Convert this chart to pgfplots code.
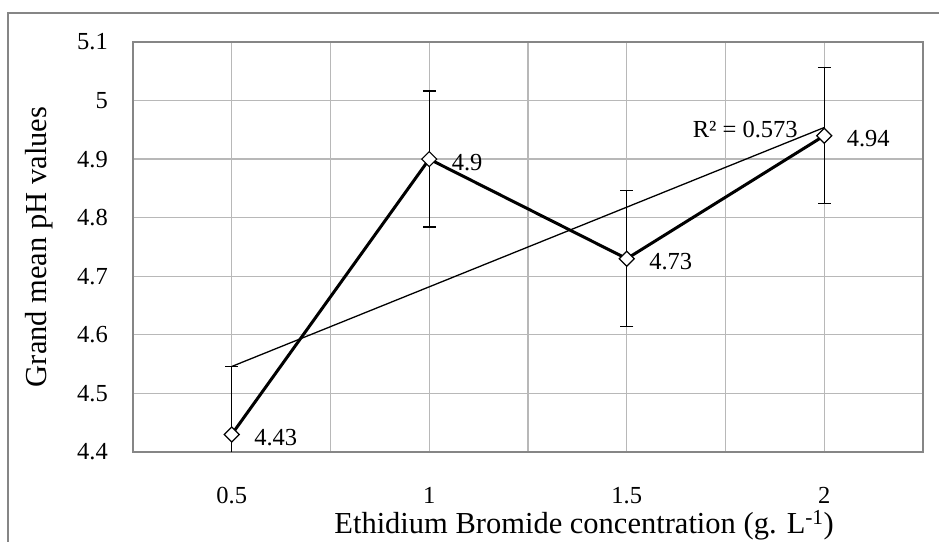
\documentclass[border=0pt]{standalone}
\usepackage{pgfplots}
\pgfplotsset{compat=1.18}
\usepackage{fontspec}
\setmainfont{Liberation Serif}
\definecolor{gridgray}{RGB}{184,184,184}
\definecolor{framegray}{RGB}{134,134,134}
\begin{document}
\begin{tikzpicture}[x=1bp,y=1bp]
\begin{axis}[
    at={(133bp,90bp)}, anchor=south west,
    scale only axis, width=790bp, height=410bp,
    xmin=0.25, xmax=2.25, ymin=4.4, ymax=5.1,
    xtick={0.5,1,1.5,2},
    minor xtick={0.25,0.75,1.25,1.75,2.25},
    ytick={4.4,4.5,4.6,4.7,4.8,4.9,5.0,5.1},
    grid=both,
    major grid style={gridgray, line width=1.3bp},
    minor grid style={gridgray, line width=1.3bp},
    major tick length=0pt, minor tick length=0pt,
    axis line style={framegray, line width=1.3bp},
    /pgf/number format/assume math mode=true,
    tick label style={font=\fontsize{24.5bp}{28bp}\selectfont, inner sep=0pt},
    yticklabel style={xshift=-25bp},
    xticklabel style={yshift=-35bp},
    xlabel={Ethidium Bromide concentration (g. L\textsuperscript{-1})},
    ylabel={Grand mean pH values},
    label style={font=\fontsize{30.5bp}{34bp}\selectfont},
    xlabel style={at={(axis description cs:0.571,-0.198)}, anchor=base, inner sep=0pt},
    ylabel style={at={(axis description cs:-0.119,0.5)}, anchor=center, inner sep=0pt},
]
% linear trendline
\addplot[black, line width=1.3bp] coordinates {(0.5,4.546) (2,4.954)};

% grand means with error bars
\addplot[black, line width=3bp,
    mark=square*, mark size=5.3bp,
    mark options={rotate=45, fill=white, draw=black, line width=1.2bp},
    nodes near coords,
    every node near coord/.append style={font=\fontsize{24.5bp}{28bp}\selectfont,
        anchor=west, inner sep=0pt, xshift=22bp, yshift=-3bp},
    error bars/.cd, y dir=both, y explicit,
    error bar style={line width=1.4bp, black},
    error mark options={rotate=90, mark size=6.5bp, line width=1.4bp, black},
] coordinates {
    (0.5,4.43) +- (0,0.116)
    (1,4.90)   +- (0,0.116)
    (1.5,4.73) +- (0,0.116)
    (2,4.94)   +- (0,0.116)
};

\node[font=\fontsize{24.5bp}{28bp}\selectfont] at (axis cs:1.80,4.95) {R² = 0.573};
\end{axis}
\draw[framegray, line width=1.3bp] (8,-10) -- (8,529) -- (950,529);
\pgfresetboundingbox
\useasboundingbox (0,0) rectangle (939,542);
\end{tikzpicture}
\end{document}
